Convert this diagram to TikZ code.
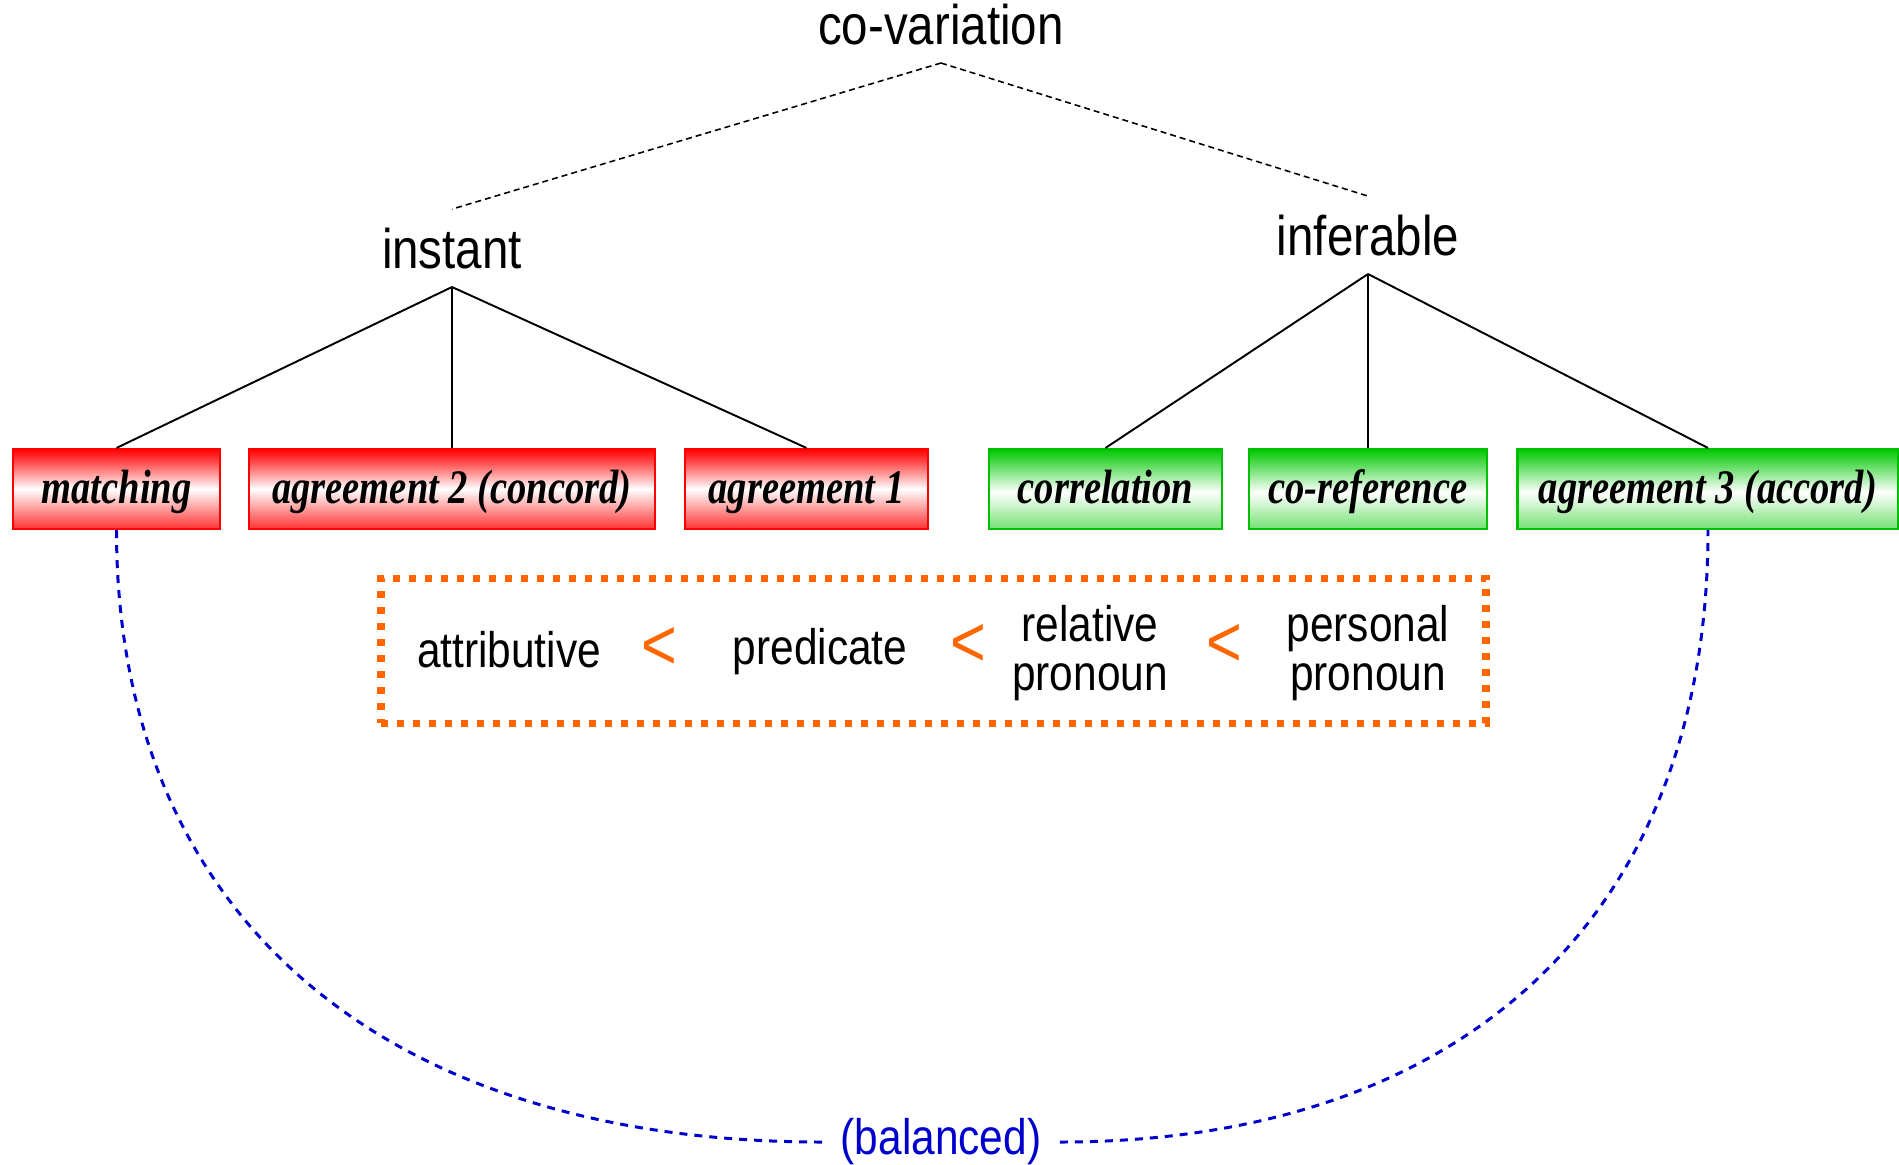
\documentclass[tikz,border=0pt]{standalone}
\usepackage{fontspec}
\setmainfont{Liberation Sans}[FakeStretch=0.85]
\newfontfamily\leaffont{Liberation Serif}[FakeStretch=0.8]
\usetikzlibrary{calc}

\definecolor{leafred}{RGB}{255,0,0}
\definecolor{leafgreen}{RGB}{0,200,0}
\definecolor{scaleorange}{RGB}{255,102,0}
\definecolor{arcblue}{RGB}{0,0,204}

% vertical fades for the leaf boxes (the box spans 25bp..75bp)
\pgfdeclareverticalshading{redfade}{100bp}{%
  color(0bp)=(leafred!80); color(25bp)=(leafred!80);
  color(50bp)=(white);
  color(68bp)=(leafred!75); color(75bp)=(leafred); color(100bp)=(leafred)}
\pgfdeclareverticalshading{greenfade}{100bp}{%
  color(0bp)=(leafgreen!55); color(25bp)=(leafgreen!55);
  color(48bp)=(white);
  color(68bp)=(leafgreen!75); color(75bp)=(leafgreen); color(100bp)=(leafgreen)}

\begin{document}
\begin{tikzpicture}[x=0.1mm, y=-0.1mm,
  head/.style={font=\fontsize{15.9}{18}\selectfont, inner xsep=0pt,
    inner ysep=1.8mm, text depth=0pt},
  leaf/.style={line width=0.6pt, minimum height=8mm, inner sep=0pt,
    text height=3.5mm, text depth=0.7mm, shade,
    font=\leaffont\bfseries\itshape\fontsize{13.7}{16}\selectfont},
  redleaf/.style={leaf, draw=leafred, shading=redfade},
  greenleaf/.style={leaf, draw=leafgreen!95!black, shading=greenfade},
  branch/.style={line width=0.55pt},
  optbranch/.style={line width=0.45pt, dash pattern=on 0.6mm off 0.4mm},
  scaleitem/.style={font=\fontsize{14.2}{14}\selectfont, align=center, inner sep=0pt},
  less/.style={font=\fontsize{20.5}{22}\selectfont, text=scaleorange, inner sep=0pt},
  scalebox/.style={draw=scaleorange, line width=2pt, dash pattern=on 0.7mm off 0.9mm},
  balarc/.style={draw=arcblue, line width=0.85pt, dash pattern=on 0.8mm off 0.7mm},
]
\useasboundingbox (0,0) rectangle (1899,1164);

% top of the tree
\node[head, anchor=south] (cov) at (941,63) {co-variation};
\node[head, anchor=south] (inst) at (452,287) {instant};
\node[head, anchor=south] (infer) at (1368,274) {inferable};

% leaves
\node[redleaf, minimum width=20.7mm] (match) at (116.5,489) {matching};
\node[redleaf, minimum width=40.6mm] (agr2) at (452,489) {agreement 2 (concord)};
\node[redleaf, minimum width=24.3mm] (agr1) at (806.5,489) {agreement 1};
\node[greenleaf, minimum width=23.3mm] (corr) at (1105.5,489) {correlation};
\node[greenleaf, minimum width=23.8mm] (coref) at (1368,489) {co-reference};
\node[greenleaf, minimum width=38.1mm] (agr3) at (1708,489) {agreement 3 (accord)};

% branches
\draw[optbranch] (cov.south) -- (inst.north);
\draw[optbranch] (cov.south) -- (infer.north);
\draw[branch] (inst.south) -- (match.north);
\draw[branch] (inst.south) -- (agr2.north);
\draw[branch] (inst.south) -- (agr1.north);
\draw[branch] (infer.south) -- (corr.north);
\draw[branch] (infer.south) -- (coref.north);
\draw[branch] (infer.south) -- (agr3.north);

% the hierarchy scale
\node[scalebox, minimum width=110.5mm, minimum height=14.5mm] (scale) at (933.5,650.5) {};
\node[scaleitem] (attr) at (509,650) {attributive};
\node[less] (lt1) at (659,648) {<};
\node[scaleitem] (pred) at (820,652) {predicate};
\node[less] (lt2) at (968,645) {<};
\node[scaleitem] (rel) at (1090,653) {relative\\pronoun};
\node[less] (lt3) at (1224,645) {<};
\node[scaleitem] (pers) at (1368,653) {personal\\pronoun};

% balanced arc
\node[font=\fontsize{14.2}{16}\selectfont, text=arcblue, inner xsep=1.8mm, inner ysep=0pt]
  (bal) at (941,1142) {(balanced)};
\draw[balarc] (match.south) .. controls +(0,385) and +(-440,0) .. (bal.west);
\draw[balarc] (bal.east) .. controls +(405,0) and +(0,385) .. (agr3.south);
\end{tikzpicture}
\end{document}
